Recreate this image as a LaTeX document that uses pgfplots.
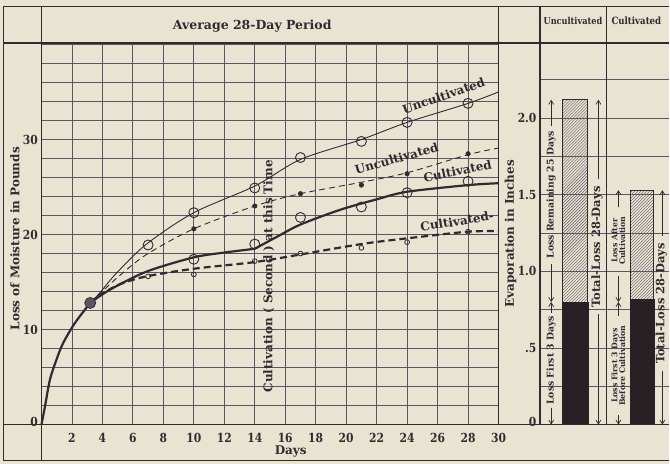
\documentclass[border=0pt]{standalone}
\usepackage{fontspec}
\setmainfont{DejaVu Serif}
\newfontfamily\cond{DejaVu Serif}[FakeStretch=0.86]
\usepackage{pgfplots}
\pgfplotsset{compat=1.18}
\usetikzlibrary{patterns,arrows.meta}
\definecolor{paper}{RGB}{233,227,210}
\definecolor{ink}{RGB}{50,42,48}
\definecolor{gridc}{RGB}{92,84,96}
\definecolor{barc}{RGB}{40,32,36}
\newcommand{\fs}[1]{\fontsize{#1}{#1}\selectfont}
\tikzset{barbup/.style={-{Straight Barb[length=4pt,width=5pt]}, line width=0.7pt, ink}}
\begin{document}
\begin{tikzpicture}[x=1pt,y=1pt]
\fill[paper] (0,0) rectangle (670,464);
% main chart
\begin{axis}[at={(41.5pt,39pt)}, anchor=origin, scale only axis, width=457.5pt, height=380.5pt,
  xmin=0, xmax=30, ymin=0, ymax=40, clip=false,
  axis line style={draw=none},
  xtick={0,2,...,30}, xticklabels={,2,4,6,8,10,12,14,16,18,20,22,24,26,28,30},
  ytick={0,10,20,30}, yticklabels={{\raisebox{6pt}{0}},10,20,30},
  minor ytick={0,2,...,40},
  xmajorgrids, ymajorgrids, yminorgrids,
  major x grid style={gridc, line width=0.8pt},
  major y grid style={gridc, line width=1.5pt},
  minor y grid style={gridc, line width=0.8pt},
  major tick length=0pt, minor tick length=0pt,
  every tick label/.append style={font=\cond\bfseries\fs{12.5}, text=ink},
  xticklabel style={yshift=-5pt},
]
\addplot[ink, line width=2.2pt, smooth] coordinates {(0,0) (0.23,1.9) (0.56,4.75) (1.0,6.9) (1.43,8.6) (2.2,10.7) (3.2,12.8)};
\addplot[ink, line width=0.9pt, smooth] coordinates {(3.2,12.8) (3.85,13.9) (4.9,15.9) (6.9,19.0) (10,22.3) (14,25.1) (17,27.9) (21,30.0) (24,31.8) (28,33.8) (30,35.0)};
\addplot[ink, line width=0.9pt, smooth, dash pattern=on 6pt off 4pt] coordinates {(3.2,12.8) (5,15.5) (6.9,17.9) (10,20.6) (14,23.0) (17,24.3) (21,25.5) (24,26.5) (28,28.4) (30,29.1)};
\addplot[ink, line width=2.2pt, smooth] coordinates {(3.2,12.8) (4.5,14.2) (6.9,16.1) (10,17.6) (12,18.1) (14,18.5)};
\addplot[ink, line width=2.2pt, smooth] coordinates {(14,18.5) (15.5,19.8) (17,21.05) (19.6,22.6) (22,23.7) (24,24.5) (28,25.2) (30,25.4)};
\addplot[ink, line width=2.2pt, smooth, dash pattern=on 7pt off 4pt] coordinates {(3.2,12.8) (3.9,13.7) (5.2,14.8) (6.9,15.6) (10,16.4) (14,17.1) (17,17.9) (21,19.0) (24,19.6) (28,20.3) (30,20.35)};
% marks
\addplot[only marks, mark=o, mark size=5pt, ink, mark options={line width=0.9pt}] coordinates {(7,18.9) (10,22.3) (14,24.9) (17,28.1) (21,29.8) (24,31.8) (28,33.8)};
\addplot[only marks, mark=*, mark size=2.2pt, ink, mark options={fill=ink, line width=0.6pt}] coordinates {(10,20.6) (14,23.0) (17,24.3) (21,25.2) (24,26.4) (28,28.5)};
\addplot[only marks, mark=o, mark size=5pt, ink, mark options={line width=0.9pt}] coordinates {(10,17.4) (14,19.0) (17,21.8) (21,22.9) (24,24.4) (28,25.6)};
\addplot[only marks, mark=o, mark size=2.4pt, ink, mark options={line width=0.8pt, fill=paper}] coordinates {(7,15.6) (10,15.8) (14,17.2) (17,18.0) (21,18.6) (24,19.2) (28,20.3)};
\addplot[only marks, mark=*, mark size=5.5pt, mark options={fill=gridc, draw=ink, line width=0.8pt}] coordinates {(3.2,12.8)};
% labels on curves
\node[rotate=90, font=\bfseries\fs{12}, text=ink] at (axis cs:14.92,15.6) {Cultivation ( Second ) at this Time};
\node[rotate=19, font=\bfseries\fs{12}, text=ink] at (axis cs:26.39,34.6) {Uncultivated};
\node[rotate=16, font=\bfseries\fs{12}, text=ink] at (axis cs:23.31,28.0) {Uncultivated};
\node[rotate=11.5, font=\bfseries\fs{12}, text=ink] at (axis cs:27.31,26.7) {Cultivated};
\node[rotate=9, font=\bfseries\fs{12}, text=ink] at (axis cs:27.28,21.4) {Cultivated-};
\end{axis}
% evaporation chart
\begin{axis}[at={(540.5pt,39pt)}, anchor=origin, scale only axis, width=129.5pt, height=383.4pt,
  xmin=540.5, xmax=670, ymin=0, ymax=2.5, clip=false,
  axis line style={draw=none},
  xtick=\empty,
  ytick={0,0.5,1,1.5,2}, yticklabels={{\raisebox{6pt}{0}},.5,1.0,1.5,2.0},
  minor ytick={0.25,0.75,1.25,1.75,2.25},
  ymajorgrids, yminorgrids,
  major y grid style={gridc, line width=0.8pt},
  minor y grid style={gridc, line width=0.8pt},
  major tick length=0pt, minor tick length=0pt,
  every tick label/.append style={font=\cond\bfseries\fs{12.5}, text=ink},
]
\addplot[draw=ink, line width=0.9pt, pattern=north east lines, pattern color=gridc] coordinates {(562.7,0.8) (588.3,0.8) (588.3,2.12) (562.7,2.12)} -- cycle;
\addplot[fill=barc, draw=barc] coordinates {(562.7,0) (588.3,0) (588.3,0.8) (562.7,0.8)} -- cycle;
\addplot[draw=ink, line width=0.9pt, pattern=north east lines, pattern color=gridc] coordinates {(630.7,0.82) (654.5,0.82) (654.5,1.53) (630.7,1.53)} -- cycle;
\addplot[fill=barc, draw=barc] coordinates {(630.7,0) (654.5,0) (654.5,0.82) (630.7,0.82)} -- cycle;
% arrows uncultivated
\draw[barbup] (axis cs:551.7,1.95) -- (axis cs:551.7,2.12);
\draw[barbup] (axis cs:551.7,1.05) -- (axis cs:551.7,0.8);
\draw[barbup] (axis cs:551.7,0.73) -- (axis cs:551.7,0.8);
\draw[barbup] (axis cs:551.7,0.11) -- (axis cs:551.7,0.0);
\node[rotate=90, font=\bfseries\fs{9.3}, text=ink] at (axis cs:551.7,1.50) {Loss Remaining 25 Days};
\node[rotate=90, font=\bfseries\fs{9.3}, text=ink] at (axis cs:551.7,0.42) {Loss First 3 Days};
\draw[barbup] (axis cs:599,1.60) -- (axis cs:599,2.12);
\draw[barbup] (axis cs:599,0.72) -- (axis cs:599,0.0);
\node[rotate=90, font=\bfseries\fs{11.5}, text=ink] at (axis cs:597.5,1.16) {Total-Loss 28-Days};
% arrows cultivated
\draw[barbup] (axis cs:619,1.42) -- (axis cs:619,1.53);
\draw[barbup] (axis cs:619,0.97) -- (axis cs:619,0.8);
\draw[barbup] (axis cs:619,0.71) -- (axis cs:619,0.8);
\draw[barbup] (axis cs:619,0.06) -- (axis cs:619,0.0);
\node[rotate=90, font=\bfseries\fs{7.8}, text=ink, align=center, inner sep=0pt] at (axis cs:619,1.20) {Loss After\\Cultivation};
\node[rotate=90, font=\bfseries\fs{7.8}, text=ink, align=center, inner sep=0pt] at (axis cs:619,0.385) {Loss First 3 Days\\Before Cultivation};
\draw[barbup] (axis cs:663,1.23) -- (axis cs:663,1.53);
\draw[barbup] (axis cs:663,0.35) -- (axis cs:663,0.0);
\node[rotate=90, font=\bfseries\fs{11.5}, text=ink, inner sep=0pt] at (axis cs:662,0.79) {Total-Loss 28-Days};
\end{axis}
% frame
\begin{scope}[ink, line width=1.3pt]
\draw (3.3,3) -- (3.3,457.5);
\draw (3.3,457.5) -- (670,457.5);
\draw (3.3,3) -- (670,3);
\draw (41.5,3) -- (41.5,457.5);
\draw (3.3,421) -- (670,421);
\draw (3.3,39) -- (670,39);
\draw (499,39) -- (499,457.5);
\draw (540.5,39) -- (540.5,457.5);
\draw (607,39) -- (607,457.5);
\end{scope}
% titles and labels
\node[font=\bfseries\fs{12.5}, text=ink] at (252.5,438) {Average 28-Day Period};
\node[font=\cond\bfseries\fs{9.5}, text=ink] at (573.5,443) {Uncultivated};
\node[font=\cond\bfseries\fs{10}, text=ink, anchor=west, inner sep=0pt] at (612,443) {Cultivated};
\node[rotate=90, font=\bfseries\fs{12}, text=ink] at (15,225) {Loss of Moisture in Pounds};
\node[rotate=90, font=\bfseries\fs{12}, text=ink] at (511,230) {Evaporation in Inches};
\node[font=\bfseries\fs{12}, text=ink] at (291,12) {Days};
\end{tikzpicture}
\end{document}
